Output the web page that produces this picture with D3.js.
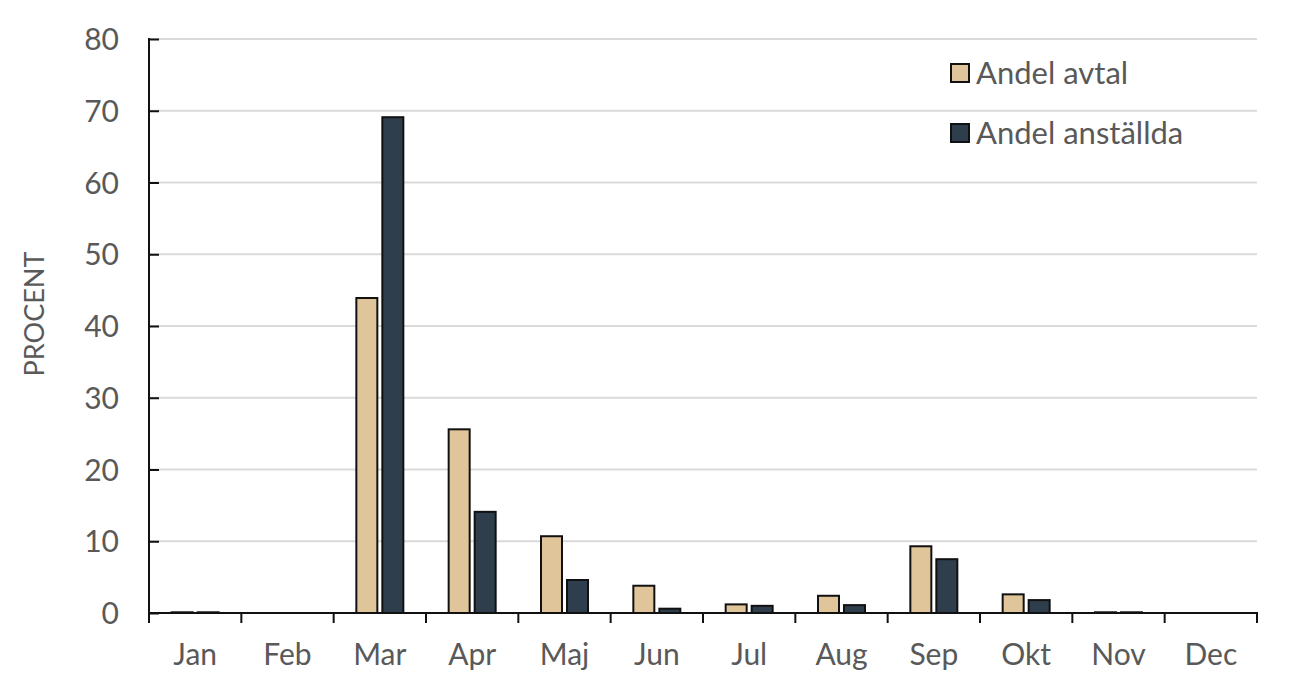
<!DOCTYPE html>
<html><head><meta charset="utf-8">
<script src="https://cdn.jsdelivr.net/npm/d3@7"></script>
<style>body{margin:0;background:#fff;} svg{display:block;font-family:Lato,"Open Sans",sans-serif;}</style>
</head><body>
<svg id="c" width="1296" height="698"></svg>
<script>
const months = ["Jan","Feb","Mar","Apr","Maj","Jun","Jul","Aug","Sep","Okt","Nov","Dec"];
const seriesNames = ["Andel avtal","Andel anställda"];
const avtal = [0.1,0,43.9,25.6,10.7,3.8,1.2,2.4,9.3,2.6,0.1,0];
const anstallda = [0.1,0,69.1,14.1,4.6,0.6,1.0,1.1,7.5,1.8,0.1,0];
const yTicks = [0,10,20,30,40,50,60,70,80];
const colors = ["#e0c59a","#2f3e4c"];

const svg = d3.select("#c");
const L=149, R=1257, T=39, B=613;
const x = d3.scaleBand().domain(months).range([L,R]).padding(0);
const y = d3.scaleLinear().domain([0,80]).range([B,T]);

// grid
svg.append("g").selectAll("line").data(yTicks.filter(d=>d>0)).join("line")
  .attr("x1",L).attr("x2",R).attr("y1",d=>y(d)).attr("y2",d=>y(d))
  .attr("stroke","#d9d9d9").attr("stroke-width",2);

// bars
const bw = 21, off = 13;
const series = [avtal, anstallda];
series.forEach((vals,si)=>{
  svg.append("g").selectAll("rect").data(months.map((m,i)=>({m,v:vals[i]})).filter(d=>d.v>0)).join("rect")
    .attr("x",d=>x(d.m)+x.bandwidth()/2 + (si===0?-off:off) - bw/2)
    .attr("width",bw)
    .attr("y",d=>y(d.v))
    .attr("height",d=>B-y(d.v))
    .attr("fill",colors[si]).attr("stroke","#111").attr("stroke-width",2);
});

// y axis
const ya = svg.append("g").attr("transform",`translate(${L},0)`)
  .call(d3.axisLeft(y).tickValues(yTicks).tickSize(-10).tickPadding(30));
ya.select(".domain").remove();
ya.selectAll(".tick line").attr("stroke","#111").attr("stroke-width",2);
ya.selectAll(".tick text").attr("fill","#595959").style("font-size","30px").style("font-family","Lato").attr("dy","0.35em");
svg.append("line").attr("x1",L).attr("x2",L).attr("y1",T-1).attr("y2",B+10).attr("stroke","#111").attr("stroke-width",2);

// x axis
const xa = svg.append("g").attr("transform",`translate(0,${B})`)
  .call(d3.axisBottom(x).tickSize(0).tickPadding(31));
xa.select(".domain").remove();
xa.selectAll(".tick text").attr("fill","#595959").style("font-size","30px").style("font-family","Lato");
svg.append("line").attr("x1",L-1).attr("x2",R+1).attr("y1",B).attr("y2",B).attr("stroke","#111").attr("stroke-width",2);
const bounds = months.map(m=>x(m)).concat([R]);
svg.append("g").selectAll("line").data(bounds).join("line")
  .attr("x1",d=>d).attr("x2",d=>d).attr("y1",B).attr("y2",B+10).attr("stroke","#111").attr("stroke-width",2);

// y label
svg.append("text").attr("transform","translate(44,314) rotate(-90)").attr("text-anchor","middle")
  .attr("fill","#595959").style("font-size","27px").text("PROCENT");

// legend
const lg = svg.append("g");
seriesNames.forEach((n,i)=>{
  const yy = 73 + i*60;
  lg.append("rect").attr("x",951).attr("y",yy-9).attr("width",18).attr("height",18)
    .attr("fill",colors[i]).attr("stroke","#111").attr("stroke-width",2);
  lg.append("text").attr("x",976).attr("y",yy).attr("dy","0.35em").attr("fill","#595959")
    .style("font-size","31px").text(n);
});
</script>
</body></html>
